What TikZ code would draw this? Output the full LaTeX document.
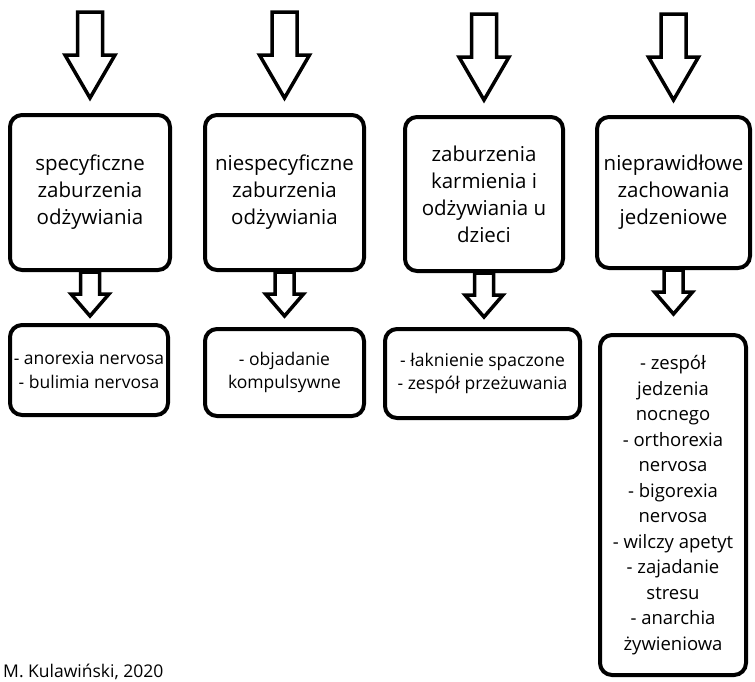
\documentclass[tikz,border=0pt]{standalone}
\usepackage{fontspec}
\setmainfont{Open Sans}
\usetikzlibrary{positioning, calc}

\begin{document}
\begin{tikzpicture}[
    x=1pt, y=-1pt,
    box/.style={rectangle, draw, line width=4pt, rounded corners=12pt, align=center, inner sep=2pt, font=\fontsize{20.5}{27}\selectfont},
    listbox/.style={box, font=\fontsize{17.5}{23.5}\selectfont},
    arrow/.style={draw, line width=3.5pt, line join=miter, fill=white},
    bigarrow/.pic={\path[arrow] (-12.5,-86) -- (12.5,-86) -- (12.5,-43) -- (25,-43) -- (0,0) -- (-25,-43) -- (-12.5,-43) -- cycle;},
    smallarrow/.pic={\path[arrow] (-9.5,-44) -- (9.5,-44) -- (9.5,-22) -- (19,-22) -- (0,0) -- (-19,-22) -- (-9.5,-22) -- cycle;}
]
\fill[white] (0,0) rectangle (755,681);
\useasboundingbox (0,0) rectangle (755,681);

% groups
\node[box, minimum width=160pt, minimum height=155pt] (spec) at (90,192.5) {specyficzne\\ zaburzenia\\ odżywiania};
\node[box, minimum width=159pt, minimum height=155pt] (nonspec) at (284.5,192.5) {niespecyficzne\\ zaburzenia\\ odżywiania};
\node[box, minimum width=158pt, minimum height=154pt] (child) at (484,194) {zaburzenia\\ karmienia i\\ odżywiania u\\ dzieci};
\node[box, minimum width=153pt, minimum height=151pt] (abnormal) at (673.5,192.5) {nieprawidłowe\\ zachowania\\ jedzeniowe};

% examples
\node[listbox, minimum width=158pt, minimum height=90pt] (specList) at (89,370) {- anorexia nervosa\\ - bulimia nervosa};
\node[listbox, minimum width=159pt, minimum height=87pt] (nonspecList) at (284.5,372.5) {- objadanie\\ kompulsywne};
\node[listbox, minimum width=195pt, minimum height=89pt] (childList) at (482.5,373.5) {- łaknienie spaczone\\ - zespół przeżuwania};
\node[listbox, minimum width=146pt, minimum height=340pt, font=\fontsize{18.5}{25.5}\selectfont] (abnormalList) at (673,505) {- zespół\\ jedzenia\\ nocnego\\ - orthorexia\\ nervosa\\ - bigorexia\\ nervosa\\ - wilczy apetyt\\ - zajadanie\\ stresu\\ - anarchia\\ żywieniowa};

\foreach \b in {spec, nonspec, child, abnormal} {
    \pic at ($(\b.north)+(0,-15)$) {bigarrow};
    \pic at ($(\b.south)+(0,44)$) {smallarrow};
}

\node[anchor=base west, inner sep=0pt, font=\fontsize{17.5}{21}\selectfont] (credit) at (3,677) {M. Kulawiński, 2020};

\end{tikzpicture}
\end{document}
